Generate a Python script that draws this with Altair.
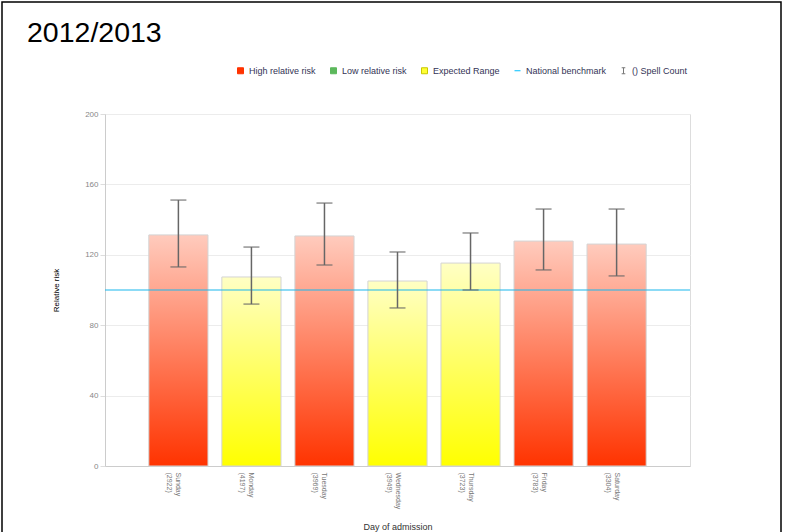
import altair as alt
import pandas as pd

# ---- data ----
days = ["Sunday", "Monday", "Tuesday", "Wednesday", "Thursday", "Friday", "Saturday"]
spells = [2922, 4197, 3969, 3949, 3723, 3783, 3304]
risk = [131.3, 107.4, 130.7, 105.1, 115.3, 127.8, 126.1]
lower = [113.1, 92.0, 114.2, 89.8, 100.0, 111.4, 108.0]
upper = [151.1, 124.4, 149.4, 121.6, 132.4, 146.0, 146.0]
band = ["High", "Expected", "High", "Expected", "Expected", "High", "High"]
benchmark = [100]

legend_items = ["High relative risk", "Low relative risk", "Expected Range",
                "National benchmark", "() Spell Count"]
legend_fill = ["#ff3300", "#5cb85c", "#ffff33", "transparent", "transparent"]
legend_stroke = ["#ff3300", "#5cb85c", "#c8c800", "#00bfff", "#777777"]
legend_shape = ["square", "square", "square", "stroke",
                "M-0.6,-1H0.6M0,-1V1M-0.6,1H0.6"]

df = pd.DataFrame({
    "day": days,
    "label": [f"{d}|({s})" for d, s in zip(days, spells)],
    "risk": risk,
    "lower": lower,
    "upper": upper,
    "band": band,
})
order = df["label"].tolist()
FONT = "Liberation Sans"

x_enc = alt.X(
    "label:N", sort=order,
    scale=alt.Scale(paddingInner=0.19, paddingOuter=0.6),
    axis=alt.Axis(
        title="Day of admission", labelAngle=90, labelFontSize=7, labelColor="#777",
        labelExpr="split(datum.label, '|')", labelPadding=6, ticks=False,
        domainColor="#ccc", titleFontSize=9, titleFontWeight="normal",
        titleColor="#333", titleY=56, titleBaseline="top", labelFont=FONT, titleFont=FONT,
    ),
)
y_scale = alt.Scale(domain=[0, 200], nice=False)
y_axis = alt.Axis(
    title="Relative risk", values=[0, 40, 80, 120, 160, 200], labelFontSize=8,
    labelColor="#888", titleFontSize=8, titleFontWeight="normal", titleColor="#000",
    gridColor="#ececec", domainColor="#ccc", tickColor="#ddd", tickSize=5,
    titleX=-45, labelFont=FONT, titleFont=FONT,
)

base = alt.Chart(df)

red_grad = alt.LinearGradient(
    gradient="linear", x1=0, x2=0, y1=0, y2=1,
    stops=[alt.GradientStop(color="#ffcbbd", offset=0),
           alt.GradientStop(color="#ff3300", offset=1)],
)
yel_grad = alt.LinearGradient(
    gradient="linear", x1=0, x2=0, y1=0, y2=1,
    stops=[alt.GradientStop(color="#ffffc4", offset=0),
           alt.GradientStop(color="#ffff00", offset=1)],
)

bars_high = base.transform_filter("datum.band == 'High'").mark_bar(
    fill=red_grad, stroke="#d4d4d4", strokeWidth=1
).encode(x=x_enc, y=alt.Y("risk:Q", scale=y_scale, axis=y_axis))

bars_exp = base.transform_filter("datum.band == 'Expected'").mark_bar(
    fill=yel_grad, stroke="#d4d4d4", strokeWidth=1
).encode(x=x_enc, y=alt.Y("risk:Q", scale=y_scale, axis=y_axis))

bench = alt.Chart(pd.DataFrame({"b": benchmark})).mark_rule(
    color="#1ab8ee", strokeWidth=1.2
).encode(y=alt.Y("b:Q", scale=y_scale, axis=y_axis))

err_rule = base.mark_rule(color="#666", strokeWidth=1.5).encode(
    x=x_enc, y=alt.Y("lower:Q", scale=y_scale, axis=y_axis), y2="upper:Q")
cap_hi = base.mark_tick(color="#666", thickness=1.5, size=16).encode(
    x=x_enc, y=alt.Y("upper:Q", scale=y_scale, axis=y_axis))
cap_lo = base.mark_tick(color="#666", thickness=1.5, size=16).encode(
    x=x_enc, y=alt.Y("lower:Q", scale=y_scale, axis=y_axis))

leg = alt.Legend(title=None, orient="none", legendX=131, legendY=-48,
                 direction="horizontal", columns=5, labelFontSize=9,
                 labelFont=FONT, labelColor="#333355", symbolSize=36,
                 symbolStrokeWidth=1, symbolOpacity=1, columnPadding=12,
                 labelOffset=4)

legend_layer = alt.Chart(pd.DataFrame({"item": legend_items})).transform_filter(
    "datum.item == 'none'"
).mark_point(filled=False, opacity=1).encode(
    fill=alt.Fill("item:N", scale=alt.Scale(domain=legend_items, range=legend_fill),
                  legend=leg),
    stroke=alt.Stroke("item:N", scale=alt.Scale(domain=legend_items, range=legend_stroke),
                      legend=leg),
    shape=alt.Shape("item:N", scale=alt.Scale(domain=legend_items, range=legend_shape),
                    legend=leg),
)

border = alt.Chart(pd.DataFrame({"k": [0]})).mark_rect(
    fill="transparent", stroke="#000", strokeWidth=1.5
).encode(x=alt.value(-103), x2=alt.value(676), y=alt.value(-112), y2=alt.value(440))

chart = alt.layer(
    bars_high, bars_exp, bench, err_rule, cap_hi, cap_lo, legend_layer, border
).properties(
    width=585, height=352,
    autosize=alt.AutoSizeParams(type="none"),
    padding={"left": 105, "top": 114, "right": 99, "bottom": 66},
    title=alt.TitleParams("2012/2013", anchor="start", frame="group", fontSize=28.5,
                          font=FONT, fontWeight="normal", color="#000", dx=-78, dy=50),
).configure_view(stroke=None).configure(background="white")

chart.save("out.html", embed_options={"renderer": "svg", "actions": False})
